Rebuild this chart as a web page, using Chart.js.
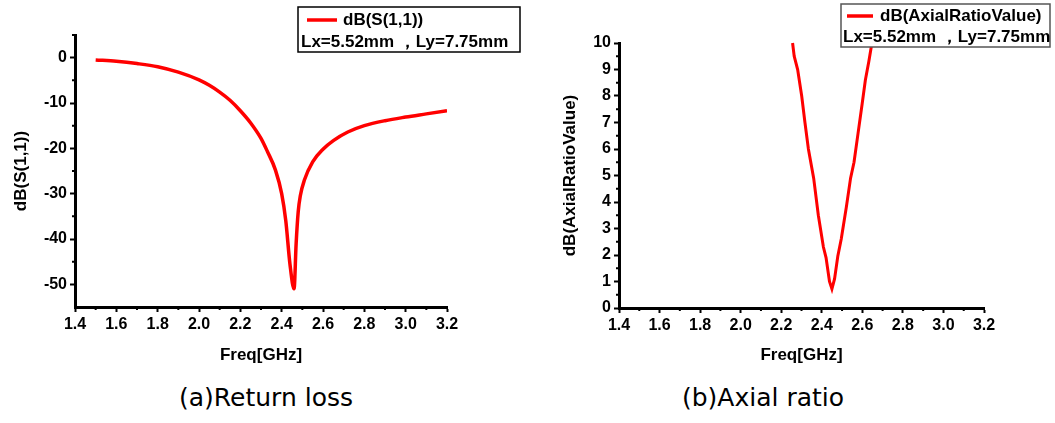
<!DOCTYPE html>
<html>
<head>
<meta charset="utf-8">
<script src="https://cdn.jsdelivr.net/npm/chart.js@4/dist/chart.umd.min.js"></script>
<style>
  body { margin: 0; background: #fff; width: 1055px; height: 423px; position: relative; overflow: hidden; }
  .panel { position: absolute; top: 0; }
  .panel canvas { display: block; }
  .caption { position: absolute; top: 383px; line-height: 29px; font-family: "DejaVu Sans", sans-serif; font-size: 25px; color: #000; transform: translateX(-50%); white-space: nowrap; }
</style>
</head>
<body>
<div class="panel" style="left:0"><canvas id="chartA" width="530" height="380"></canvas></div>
<div class="panel" style="left:530px"><canvas id="chartB" width="525" height="380"></canvas></div>
<div class="caption" style="left:266px">(a)Return loss</div>
<div class="caption" style="left:763px">(b)Axial ratio</div>
<script>
// return loss
const s11Freq = [1.5, 1.6, 1.7, 1.8, 1.9, 2.0, 2.05, 2.1, 2.15, 2.2, 2.25, 2.3, 2.33, 2.37, 2.4, 2.42, 2.44, 2.46, 2.47, 2.48, 2.49, 2.51, 2.55, 2.6, 2.65, 2.72, 2.8, 2.9, 3.0, 3.1, 3.2];
const s11Db = [-0.5, -0.8, -1.3, -2.0, -3.2, -4.9, -6.1, -7.6, -9.4, -11.7, -14.4, -17.8, -20.6, -24.8, -30.0, -36.0, -45.5, -51.0, -41.0, -34.0, -30.5, -27.0, -23.0, -20.2, -18.3, -16.4, -15.0, -13.9, -13.1, -12.4, -11.7];

// axial ratio
const arFreq = [2.256, 2.264, 2.281, 2.301, 2.317, 2.334, 2.36, 2.383, 2.408, 2.421, 2.438, 2.45, 2.463, 2.479, 2.496, 2.521, 2.542, 2.559, 2.579, 2.599, 2.615, 2.632, 2.645, 2.653];
const arDb = [10, 9.5, 9.0, 8.0, 7.0, 6.0, 4.9, 3.5, 2.3, 1.9, 1.0, 0.72, 1.1, 1.95, 2.6, 3.8, 4.9, 5.5, 6.6, 7.7, 8.6, 9.3, 9.9, 10.3];

const freqTicks = [1.4, 1.6, 1.8, 2.0, 2.2, 2.4, 2.6, 2.8, 3.0, 3.2];
const freqMinor = [1.5, 1.7, 1.9, 2.1, 2.3, 2.5, 2.7, 2.9, 3.1];
const s11Ticks = [0, -10, -20, -30, -40, -50];
const s11Minor = [5, -5, -15, -25, -35, -45];
const arTicks = [0, 1, 2, 3, 4, 5, 6, 7, 8, 9, 10];
const arMinor = [0.5, 1.5, 2.5, 3.5, 4.5, 5.5, 6.5, 7.5, 8.5, 9.5];

const legendNote = "Lx=5.52mm \uFF0CLy=7.75mm";
const boldFont = "'Liberation Sans', Arial, sans-serif";

const minorTicks = {
  id: "minorTicks",
  afterDraw(chart, args, o) {
    const ctx = chart.ctx;
    const { x, y } = chart.scales;
    ctx.save();
    ctx.strokeStyle = "#000";
    ctx.lineWidth = 2;
    ctx.beginPath();
    o.x.forEach(v => {
      const px = x.getPixelForValue(v);
      ctx.moveTo(px, x.top);
      ctx.lineTo(px, x.top + 3);
    });
    o.y.forEach(v => {
      const py = y.getPixelForValue(v);
      ctx.moveTo(y.right, py);
      ctx.lineTo(y.right - 3, py);
    });
    ctx.stroke();
    ctx.restore();
  }
};

const boxLegend = {
  id: "boxLegend",
  afterDraw(chart, args, o) {
    const ctx = chart.ctx;
    const ds = chart.data.datasets[0];
    ctx.save();
    ctx.fillStyle = "#fff";
    ctx.fillRect(o.x, o.y, o.w, o.h);
    ctx.strokeStyle = o.border;
    ctx.lineWidth = 1.5;
    ctx.strokeRect(o.x, o.y, o.w, o.h);
    ctx.strokeStyle = ds.borderColor;
    ctx.lineWidth = 3.5;
    ctx.beginPath();
    ctx.moveTo(o.x + o.line[0], o.y + o.row1);
    ctx.lineTo(o.x + o.line[1], o.y + o.row1);
    ctx.stroke();
    ctx.fillStyle = "#000";
    ctx.font = "bold 17px " + boldFont;
    ctx.textBaseline = "middle";
    ctx.fillText(ds.label, o.x + o.textX, o.y + o.row1);
    ctx.fillText(legendNote, o.x + o.noteX, o.y + o.row2);
    ctx.restore();
  }
};

function makeScales(cfg) {
  const tickGrid = { display: true, drawOnChartArea: false, drawTicks: true, tickLength: 5, tickWidth: 2, tickColor: "#000" };
  const tickFont = { family: boldFont, size: 16, weight: "bold" };
  const titleFont = { family: boldFont, size: 17, weight: "bold" };
  return {
    x: {
      type: "linear",
      min: 1.4,
      max: 3.2,
      afterBuildTicks: s => { s.ticks = freqTicks.map(v => ({ value: v })); },
      afterFit: s => { s.height = cfg.xHeight; },
      grid: tickGrid,
      border: { display: true, color: "#000", width: 3 },
      ticks: { color: "#000", font: tickFont, padding: 3, maxRotation: 0, callback: v => Number(v).toFixed(1) },
      title: { display: true, text: "Freq[GHz]", color: "#000", font: titleFont, padding: { top: 0, bottom: 14 } }
    },
    y: {
      type: "linear",
      min: cfg.yMin,
      max: cfg.yMax,
      afterBuildTicks: s => { s.ticks = cfg.yTicks.map(v => ({ value: v })); },
      afterFit: s => { s.width = cfg.yWidth; },
      grid: tickGrid,
      border: { display: true, color: "#000", width: 3 },
      ticks: { color: "#000", font: tickFont, padding: 3, callback: v => String(v) },
      title: { display: true, text: cfg.yTitle, color: "#000", font: titleFont, padding: { top: cfg.yTitlePad, bottom: 0 } }
    }
  };
}

new Chart(document.getElementById("chartA"), {
  type: "line",
  data: {
    datasets: [{
      label: "dB(S(1,1))",
      data: s11Freq.map((f, i) => ({ x: f, y: s11Db[i] })),
      borderColor: "#ff0000",
      borderWidth: 3.5,
      pointRadius: 0,
      cubicInterpolationMode: "monotone",
      fill: false
    }]
  },
  options: {
    responsive: false,
    animation: false,
    layout: { padding: { left: 0, right: 83, top: 35, bottom: 0 } },
    scales: makeScales({ xHeight: 73, yMin: -55, yMax: 5, yTicks: s11Ticks, yWidth: 75, yTitle: "dB(S(1,1))", yTitlePad: 11 }),
    plugins: {
      legend: { display: false },
      tooltip: { enabled: false },
      minorTicks: { x: freqMinor, y: s11Minor },
      boxLegend: { x: 298, y: 7, w: 222, h: 45, border: "#000", line: [9, 39], textX: 45, noteX: 3, row1: 13, row2: 35 }
    }
  },
  plugins: [minorTicks, boxLegend]
});

new Chart(document.getElementById("chartB"), {
  type: "line",
  data: {
    datasets: [{
      label: "dB(AxialRatioValue)",
      data: arFreq.map((f, i) => ({ x: f, y: arDb[i] })),
      borderColor: "#ff0000",
      borderWidth: 3,
      pointRadius: 0,
      tension: 0,
      clip: false,
      fill: false
    }]
  },
  options: {
    responsive: false,
    animation: false,
    layout: { padding: { left: 0, right: 71, top: 43, bottom: 0 } },
    scales: makeScales({ xHeight: 72, yMin: 0, yMax: 10, yTicks: arTicks, yWidth: 89, yTitle: "dB(AxialRatioValue)", yTitlePad: 30 }),
    plugins: {
      legend: { display: false },
      tooltip: { enabled: false },
      minorTicks: { x: freqMinor, y: arMinor },
      boxLegend: { x: 311, y: 4, w: 209, h: 43, border: "#555", line: [6, 32], textX: 39, noteX: 2, row1: 12, row2: 33 }
    }
  },
  plugins: [minorTicks, boxLegend]
});
</script>
</body>
</html>
